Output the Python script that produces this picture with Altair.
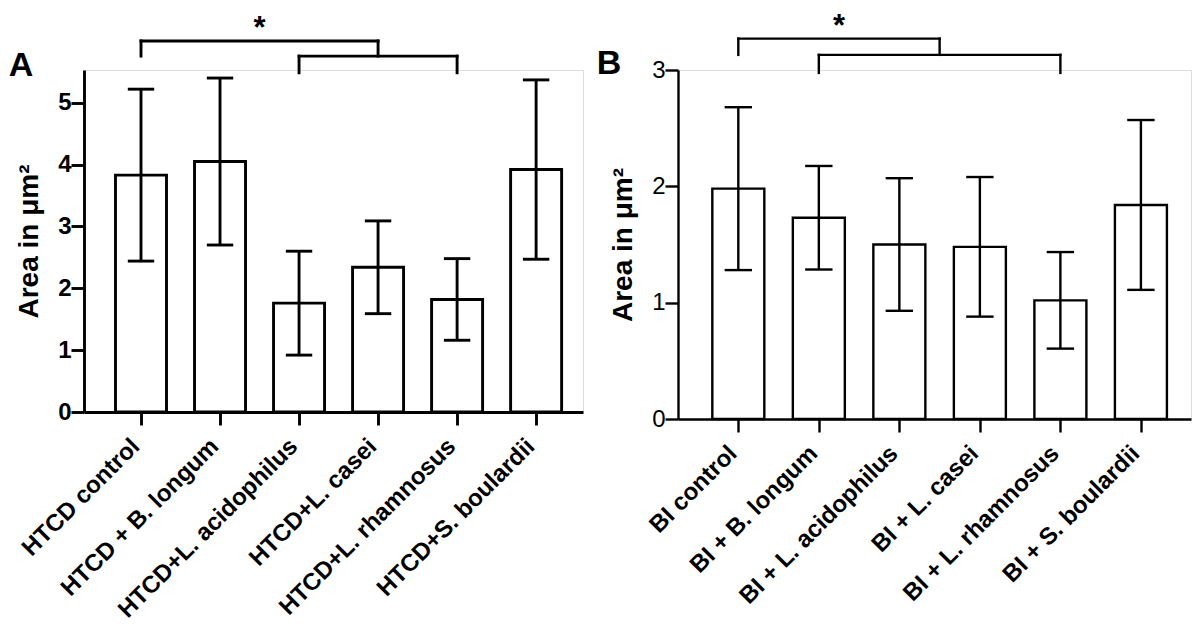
import json
import altair as alt
import pandas as pd

# ---------------- data ----------------
a_groups = ["HTCD control", "HTCD + B. longum", "HTCD+L. acidophilus",
            "HTCD+L. casei", "HTCD+L. rhamnosus", "HTCD+S. boulardii"]
a_mean = [3.83, 4.05, 1.76, 2.34, 1.82, 3.92]
a_sd = [1.39, 1.35, 0.84, 0.75, 0.66, 1.45]

b_groups = ["BI control", "BI + B. longum", "BI + L. acidophilus",
            "BI + L. casei", "BI + L. rhamnosus", "BI + S. boulardii"]
b_mean = [1.98, 1.73, 1.50, 1.48, 1.02, 1.84]
b_sd = [0.70, 0.445, 0.57, 0.60, 0.415, 0.73]

# significance brackets: (left group, right group, bar level, left leg end, right leg end)
a_brackets = [(1, 4, 6.0, 5.755, 5.755), (3, 5, 5.755, 5.485, 5.485)]
b_brackets = [(1, 3.5, 3.27, 3.13, 3.13), (2, 5, 3.13, 2.975, 2.975)]
star = "*"

y_title = "Area in μm²"
FONT = "Liberation Sans"


def panel(letter, groups, mean, sd, brackets, ydom, yticks, xdom, width, height,
          lw, bar_w, cap_half, ylab_weight, letter_dx, letter_dy):
    pos = list(range(1, len(groups) + 1))
    df = pd.DataFrame({"pos": pos, "mean": mean, "sd": sd})
    df["lo"] = df["mean"] - df["sd"]
    df["hi"] = df["mean"] + df["sd"]
    df["cl"] = df["pos"] - cap_half
    df["cr"] = df["pos"] + cap_half

    segs = []
    for (x1, x2, yb, yl, yr) in brackets:
        segs.append({"x": x1, "x2": x2, "y": yb, "y2": yb})
        segs.append({"x": x1, "x2": x1, "y": yb, "y2": yl})
        segs.append({"x": x2, "x2": x2, "y": yb, "y2": yr})
    seg_df = pd.DataFrame(segs)
    x1, x2, yb, _, _ = brackets[0]
    star_df = pd.DataFrame({"x": [(x1 + x2) / 2], "y": [yb], "t": [star]})

    label_expr = json.dumps(groups) + "[datum.value - 1]"
    xscale = alt.Scale(domain=xdom, nice=False, zero=False)
    yscale = alt.Scale(domain=ydom, nice=False)

    x_axis = alt.Axis(values=pos, labelExpr=label_expr, labelAngle=-45,
                      labelAlign="right", labelBaseline="top",
                      labelFontSize=24, labelFontWeight="bold", labelFont=FONT,
                      labelPadding=9, labelOffset=-14, labelColor="black",
                      labelLimit=0,
                      tickSize=13, tickWidth=lw, tickColor="black",
                      domainWidth=lw, domainColor="black", grid=False,
                      labelOverlap=False, labelBound=False, labelFlush=False)
    y_axis = alt.Axis(values=yticks, format="d", labelFontSize=24,
                      labelFontWeight=ylab_weight,
                      labelFont=FONT, labelColor="black", labelPadding=0,
                      tickSize=13, tickWidth=lw, tickColor="black",
                      domainWidth=lw, domainColor="black", grid=False,
                      title=y_title, titleFontSize=28, titleFontWeight="bold",
                      titleFont=FONT, titleColor="black", titlePadding=14)

    bars = alt.Chart(df).mark_bar(size=bar_w, fill="white", stroke="black",
                                  strokeWidth=lw).encode(
        x=alt.X("pos:Q", scale=xscale, axis=x_axis, title=None),
        y=alt.Y("mean:Q", scale=yscale, axis=y_axis),
    )
    err = alt.Chart(df).mark_rule(strokeWidth=lw, color="black").encode(
        x="pos:Q", y="lo:Q", y2="hi:Q")
    cap_hi = alt.Chart(df).mark_rule(strokeWidth=lw, color="black").encode(
        x="cl:Q", x2="cr:Q", y="hi:Q")
    cap_lo = alt.Chart(df).mark_rule(strokeWidth=lw, color="black").encode(
        x="cl:Q", x2="cr:Q", y="lo:Q")
    br = alt.Chart(seg_df).mark_rule(strokeWidth=lw, color="black",
                                     strokeCap="square", clip=False).encode(
        x="x:Q", x2="x2:Q", y="y:Q", y2="y2:Q")
    st = alt.Chart(star_df).mark_text(fontSize=31, fontWeight="bold", font=FONT,
                                      baseline="top", dy=-27,
                                      color="black").encode(
        x="x:Q", y="y:Q", text="t:N")

    return alt.layer(bars, err, cap_hi, cap_lo, br, st).properties(
        width=width, height=height,
        title=alt.TitleParams(letter, anchor="start", frame="bounds",
                              fontSize=34, fontWeight="bold", font=FONT,
                              color="black", dx=letter_dx, dy=letter_dy,
                              offset=0),
    )


pa = panel("A", a_groups, a_mean, a_sd, a_brackets, [0, 5.53], [0, 1, 2, 3, 4, 5],
           [0.342, 6.53], 499, 342, 2.9, 51, 0.167, "bold", -7, 70)
pb = panel("B", b_groups, b_mean, b_sd, b_brackets, [0, 3], [0, 1, 2, 3],
           [0.313, 6.56], 513, 349, 2.4, 52, 0.17, "normal", -13, 70)

chart = alt.hconcat(pa, pb, spacing=12).properties(
    padding={"left": 0, "top": 2, "right": 0, "bottom": 0}
).configure_view(stroke=None).configure(background="white")

chart.save("out.html", embed_options={"renderer": "svg", "actions": False})
